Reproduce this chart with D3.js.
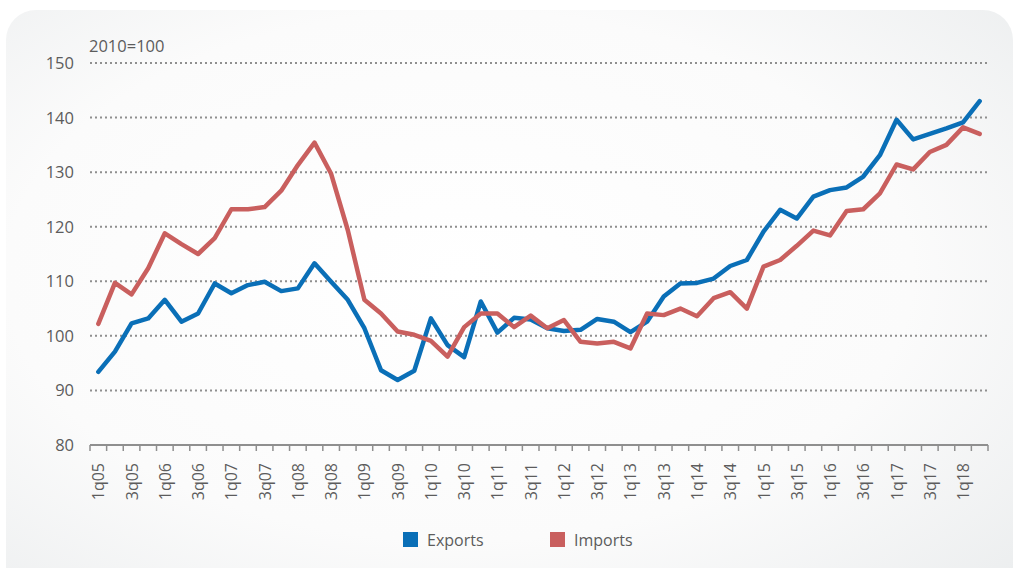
<!DOCTYPE html>
<html>
<head>
<meta charset="utf-8">
<script src="https://cdn.jsdelivr.net/npm/d3@7"></script>
<style>
  html, body { margin: 0; padding: 0; background: #fff; }
  text { font-family: "Open Sans", "Noto Sans", sans-serif; fill: #5c5c5c; }
</style>
</head>
<body>
<svg width="1013" height="568"></svg>
<script>
const svg = d3.select("svg");

// quarters 1q05 .. 2q18
const quarters = [];
for (let y = 5; y <= 18; y++) {
  for (let q = 1; q <= 4; q++) {
    if (y === 18 && q > 2) break;
    quarters.push(q + "q" + String(y).padStart(2, "0"));
  }
}

const exportsVals = [
  93.4, 97.1, 102.3, 103.2, 106.6, 102.6, 104.1, 109.6, 107.8, 109.3,
  109.9, 108.2, 108.7, 113.3, 109.9, 106.6, 101.4, 93.7, 91.9, 93.6,
  103.2, 98.3, 96.1, 106.3, 100.6, 103.3, 103.0, 101.4, 100.9, 101.1,
  103.1, 102.6, 100.7, 102.6, 107.2, 109.6, 109.7, 110.5, 112.8, 113.9,
  119.1, 123.1, 121.5, 125.5, 126.7, 127.2, 129.2, 133.1, 139.6, 136.0,
  137.0, 138.0, 139.1, 143.0
];

const importsVals = [
  102.2, 109.7, 107.6, 112.4, 118.8, 116.8, 115.0, 117.9, 123.2, 123.2,
  123.6, 126.6, 131.3, 135.4, 129.7, 119.4, 106.6, 104.1, 100.8, 100.2,
  99.1, 96.2, 101.6, 104.1, 104.1, 101.6, 103.7, 101.4, 102.9, 98.9,
  98.6, 98.9, 97.7, 104.1, 103.8, 105.0, 103.6, 106.9, 108.0, 105.0,
  112.7, 113.9, 116.5, 119.3, 118.4, 122.9, 123.2, 126.1, 131.4, 130.5,
  133.7, 135.0, 138.2, 137.0
];

const yTicks = [80, 90, 100, 110, 120, 130, 140, 150];
const seriesNames = ["Exports", "Imports"];
const seriesColors = ["#0a6fb7", "#c95f5e"];

// background panel
const defs = svg.append("defs");
const grad = defs.append("radialGradient")
  .attr("id", "bg")
  .attr("cx", "45%").attr("cy", "45%").attr("r", "75%");
grad.append("stop").attr("offset", "0%").attr("stop-color", "#ffffff");
grad.append("stop").attr("offset", "60%").attr("stop-color", "#fbfbfb");
grad.append("stop").attr("offset", "100%").attr("stop-color", "#eceeef");

svg.append("rect")
  .attr("x", 6).attr("y", 10)
  .attr("width", 1007).attr("height", 590)
  .attr("rx", 30).attr("ry", 30)
  .attr("fill", "url(#bg)");

const x = d3.scaleBand()
  .domain(quarters)
  .range([90, 988]);

const y = d3.scaleLinear()
  .domain([80, 150])
  .range([445, 63]);

const xc = d => x(d) + x.bandwidth() / 2;

// grid
svg.append("g")
  .selectAll("line")
  .data(yTicks.filter(t => t > 80))
  .join("line")
    .attr("x1", 90)
    .attr("x2", 988)
    .attr("y1", d => y(d))
    .attr("y2", d => y(d))
    .attr("stroke", "#8f8f8f")
    .attr("stroke-width", 2)
    .attr("stroke-dasharray", "2,3");

// y labels
svg.append("g")
  .selectAll("text")
  .data(yTicks)
  .join("text")
    .attr("x", 74)
    .attr("y", d => y(d) + 6)
    .attr("text-anchor", "end")
    .attr("font-size", 16.5)
    .text(d => d);

svg.append("text")
  .attr("x", 89)
  .attr("y", 52)
  .attr("font-size", 16.5)
  .text("2010=100");

// x axis
const axisG = svg.append("g").attr("transform", "translate(0,445)");
axisG.append("line")
  .attr("x1", 90).attr("x2", 988)
  .attr("stroke", "#8f8f8f").attr("stroke-width", 2);
axisG.selectAll("line.tick")
  .data(quarters.concat(["end"]))
  .join("line")
    .attr("class", "tick")
    .attr("x1", (d, i) => 90 + i * x.step())
    .attr("x2", (d, i) => 90 + i * x.step())
    .attr("y1", 0).attr("y2", 6)
    .attr("stroke", "#8f8f8f").attr("stroke-width", 1.5);

axisG.selectAll("text")
  .data(quarters.filter((d, i) => i % 2 === 0))
  .join("text")
    .attr("transform", d => `translate(${xc(d) + 6},18) rotate(-90)`)
    .attr("text-anchor", "end")
    .attr("font-size", 16)
    .text(d => d);

// lines
const line = d3.line()
  .x((d, i) => xc(quarters[i]))
  .y(d => y(d));

[exportsVals, importsVals].forEach((vals, k) => {
  svg.append("path")
    .datum(vals)
    .attr("fill", "none")
    .attr("stroke", seriesColors[k])
    .attr("stroke-width", 4.5)
    .attr("stroke-linejoin", "round")
    .attr("stroke-linecap", "round")
    .attr("d", line);
});

// legend
const legendX = [403, 550];
const legend = svg.append("g")
  .selectAll("g")
  .data(seriesNames)
  .join("g")
    .attr("transform", (d, i) => `translate(${legendX[i]},532)`);
legend.append("rect")
  .attr("width", 15).attr("height", 15)
  .attr("fill", (d, i) => seriesColors[i]);
legend.append("text")
  .attr("x", 24).attr("y", 14)
  .attr("font-size", 16)
  .text(d => d);
</script>
</body>
</html>
